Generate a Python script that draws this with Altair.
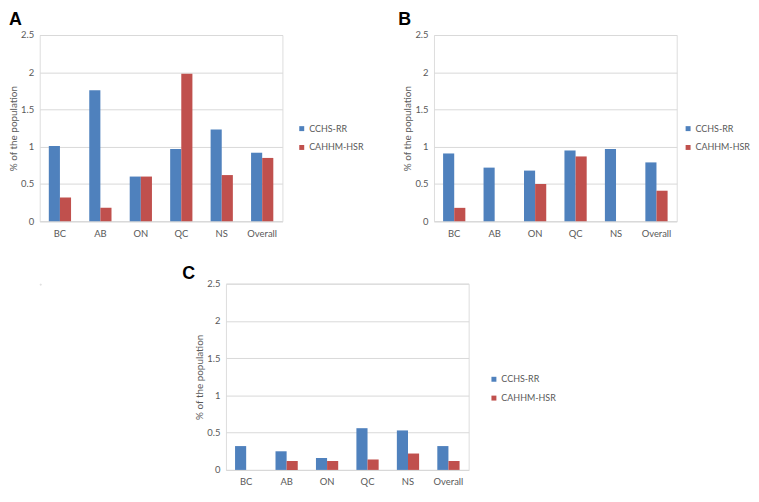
import altair as alt
import pandas as pd

categories = ["BC", "AB", "ON", "QC", "NS", "Overall"]
series = ["CCHS-RR", "CAHHM-HSR"]
colors = ["#4F81BD", "#C0504D"]
y_ticks = [0, 0.5, 1, 1.5, 2, 2.5]

a_cchs = [1.01, 1.76, 0.60, 0.97, 1.23, 0.92]
a_cahhm = [0.32, 0.18, 0.60, 1.98, 0.62, 0.85]
b_cchs = [0.91, 0.72, 0.68, 0.95, 0.97, 0.79]
b_cahhm = [0.18, None, 0.50, 0.87, None, 0.41]
c_cchs = [0.32, 0.25, 0.16, 0.56, 0.53, 0.32]
c_cahhm = [None, 0.12, 0.12, 0.14, 0.22, 0.12]

FONT = "Lato"
GRAY = "#595959"
W = 245
H = 188


def panel(label, cchs, cahhm, lx, ly_letter, leg_x, leg_y):
    rows = []
    for cat, v1, v2 in zip(categories, cchs, cahhm):
        for s, v in ((series[0], v1), (series[1], v2)):
            if v is not None:
                rows.append({"region": cat, "series": s, "value": v})
    df = pd.DataFrame(rows)
    bars = alt.Chart(df).mark_bar().encode(
        x=alt.X("region:N", sort=categories,
                scale=alt.Scale(domain=categories, paddingInner=0.45, paddingOuter=0.225),
                axis=alt.Axis(title=None, labelAngle=0, ticks=False, domainColor="#D9D9D9",
                              labelColor=GRAY, labelFontSize=9.5, labelFont=FONT,
                              labelPadding=7)),
        xOffset=alt.XOffset("series:N", scale=alt.Scale(domain=series)),
        y=alt.Y("value:Q", scale=alt.Scale(domain=[0, 2.5]),
                axis=alt.Axis(values=y_ticks, format="~g", title="% of the population",
                              domain=False, ticks=False, gridColor="#D9D9D9",
                              labelColor=GRAY, labelFontSize=9.5, labelFont=FONT,
                              labelPadding=6, titleFont=FONT, titleFontSize=10,
                              titleColor=GRAY, titleFontWeight="normal", titlePadding=2)),
        color=alt.Color("series:N", sort=series,
                        scale=alt.Scale(domain=series, range=colors),
                        legend=alt.Legend(title=None, orient="none", legendX=leg_x,
                                          legendY=leg_y,
                                          symbolType="square", symbolSize=25,
                                          symbolStrokeWidth=0, labelFont=FONT,
                                          labelFontSize=9, labelColor=GRAY,
                                          rowPadding=9, labelOffset=3)),
    )
    letter = alt.Chart(pd.DataFrame({"t": [label]})).mark_text(
        font="Liberation Sans", fontSize=18, fontWeight="bold", color="black",
        align="left", baseline="alphabetic").encode(
        text="t:N", x=alt.value(lx), y=alt.value(ly_letter))
    return alt.layer(bars, letter).properties(width=W, height=H)


A = panel("A", a_cchs, a_cahhm, -31, -10, 260, 90)
B = panel("B", b_cchs, b_cahhm, -36, -10, 252, 90)
C = panel("C", c_cchs, c_cahhm, -44, -5, 266, 92)

spacer = alt.Chart(pd.DataFrame({"v": [0]})).mark_rule(opacity=0).encode(
    x=alt.value(0), y=alt.value(0), y2=alt.value(0)).properties(width=1, height=1)

top = alt.hconcat(A, B, spacing=33).resolve_scale(
    color="independent").resolve_legend(color="independent")
bottom = alt.hconcat(spacer, C, spacing=141).resolve_scale(
    color="independent").resolve_legend(color="independent")

chart = alt.vconcat(top, bottom, spacing=26).resolve_scale(
    color="independent").resolve_legend(color="independent").properties(
    padding=0).configure_view(stroke="transparent", strokeWidth=0).configure(
    background="white")

chart.save("out.html", embed_options={"renderer": "svg", "actions": False})
